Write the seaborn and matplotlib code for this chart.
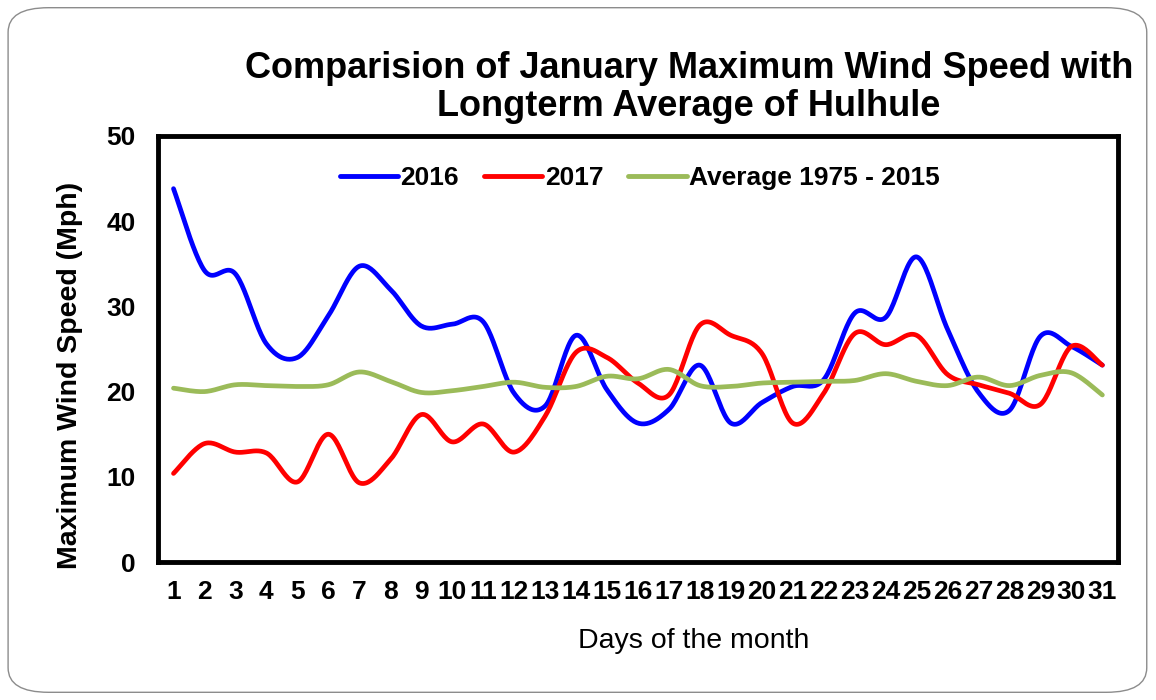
import numpy as np
import pandas as pd
import matplotlib
matplotlib.use("Agg")
import matplotlib.pyplot as plt
from matplotlib.patches import FancyBboxPatch
import seaborn as sns

# Datos (velocidad maxima del viento, Mph)
days = list(range(1, 32))
wind_2016 = [43.8, 34.2, 33.8, 25.6, 24.0, 28.9, 34.7, 32.0, 27.7, 27.9,
             28.2, 19.8, 18.3, 26.6, 20.2, 16.3, 17.9, 23.1, 16.3, 18.7,
             20.6, 21.4, 29.2, 28.7, 35.8, 27.3, 19.9, 17.8, 26.5, 25.3, 23.1]
wind_2017 = [10.4, 13.9, 12.9, 12.8, 9.4, 15.0, 9.3, 12.0, 17.3, 14.1,
             16.2, 12.9, 17.1, 24.6, 24.0, 21.0, 19.6, 27.8, 26.6, 24.5,
             16.3, 19.8, 26.8, 25.5, 26.6, 22.0, 20.8, 19.8, 18.5, 25.3, 23.1]
wind_avg = [20.4, 20.0, 20.8, 20.7, 20.6, 20.8, 22.3, 21.2, 19.9, 20.1,
            20.6, 21.1, 20.5, 20.6, 21.8, 21.5, 22.6, 20.7, 20.6, 21.0,
            21.1, 21.2, 21.3, 22.1, 21.2, 20.7, 21.7, 20.7, 21.9, 22.2, 19.6]

series_names = ["2016", "2017", "Average 1975 - 2015"]
colors = ["#0000FF", "#FF0000", "#9BBB59"]


def smooth_line(x, y, steps=24):
    """Curva suavizada tipo Excel (Catmull-Rom) solo para dibujar"""
    x = np.asarray(x, float)
    y = np.asarray(y, float)
    px = np.concatenate([[x[0]], x, [x[-1]]])
    py = np.concatenate([[y[0]], y, [y[-1]]])
    xs, ys = [], []
    t = np.linspace(0, 1, steps, endpoint=False)
    for i in range(1, len(px) - 2):
        for arr, out in ((px, xs), (py, ys)):
            p0, p1, p2, p3 = arr[i - 1], arr[i], arr[i + 1], arr[i + 2]
            out.extend(0.5 * ((2 * p1) + (-p0 + p2) * t
                              + (2 * p0 - 5 * p1 + 4 * p2 - p3) * t ** 2
                              + (-p0 + 3 * p1 - 3 * p2 + p3) * t ** 3))
    xs.append(x[-1])
    ys.append(y[-1])
    return np.array(xs), np.array(ys)


frames = []
for name, vals in zip(series_names, [wind_2016, wind_2017, wind_avg]):
    sx, sy = smooth_line(days, vals)
    frames.append(pd.DataFrame({"day": sx, "speed": sy, "series": name}))
df = pd.concat(frames, ignore_index=True)

sns.set_style("white")
plt.rcParams["font.family"] = ["Liberation Sans", "DejaVu Sans"]
plt.rcParams["text.color"] = "black"

fig = plt.figure(figsize=(11.56, 7.0), dpi=100)
ax = fig.add_axes([0.1367, 0.197, 0.8303, 0.609])

# Borde redondeado alrededor de la figura
fig.patches.append(FancyBboxPatch((0.007, 0.011), 0.985, 0.978,
                                  boxstyle="round,pad=0,rounding_size=0.035",
                                  transform=fig.transFigure, fill=False,
                                  edgecolor="#8c8c8c", linewidth=1.0))

sns.lineplot(data=df, x="day", y="speed", hue="series", palette=colors,
             sort=False, estimator=None, linewidth=3.4, ax=ax, legend=False)

ax.set_xlim(0.5, 31.5)
ax.set_ylim(0, 50)
ax.set_xticks(days)
ax.set_xticklabels([str(d) for d in days], fontsize=19, fontweight="bold")
ax.set_yticks(range(0, 51, 10))
ax.set_yticklabels([str(v) for v in range(0, 51, 10)], fontsize=19, fontweight="bold")
ax.tick_params(axis="both", direction="out", length=6, width=0.8, color="#808080",
               labelcolor="black")
ax.tick_params(axis="x", pad=7)
ax.tick_params(axis="y", pad=10)
ax.set_xlabel("")
ax.set_ylabel("")
for sp in ax.spines.values():
    sp.set_visible(True)
    sp.set_color("black")
    sp.set_linewidth(3.5)

handles = [plt.Line2D([], [], color=c, linewidth=3.5, solid_capstyle="round")
           for c in colors]
ax.legend(handles, series_names, loc="upper center", bbox_to_anchor=(0.502, 0.985),
          ncol=3, frameon=False, handlelength=2.2, handletextpad=0.1,
          columnspacing=0.95, prop={"weight": "bold", "size": 19})

fig.text(0.596, 0.875, "Comparision of January Maximum Wind Speed with\nLongterm Average of Hulhule",
         ha="center", va="center", fontsize=26, fontweight="bold", linespacing=1.1)
fig.text(0.0606, 0.463, "Maximum Wind Speed (Mph)", rotation=90, ha="center",
         va="center", fontsize=20.5, fontweight="bold")
fig.text(0.600, 0.084, "Days of the month", ha="center", va="center", fontsize=20.5)

fig.savefig("out.png", dpi=100)
